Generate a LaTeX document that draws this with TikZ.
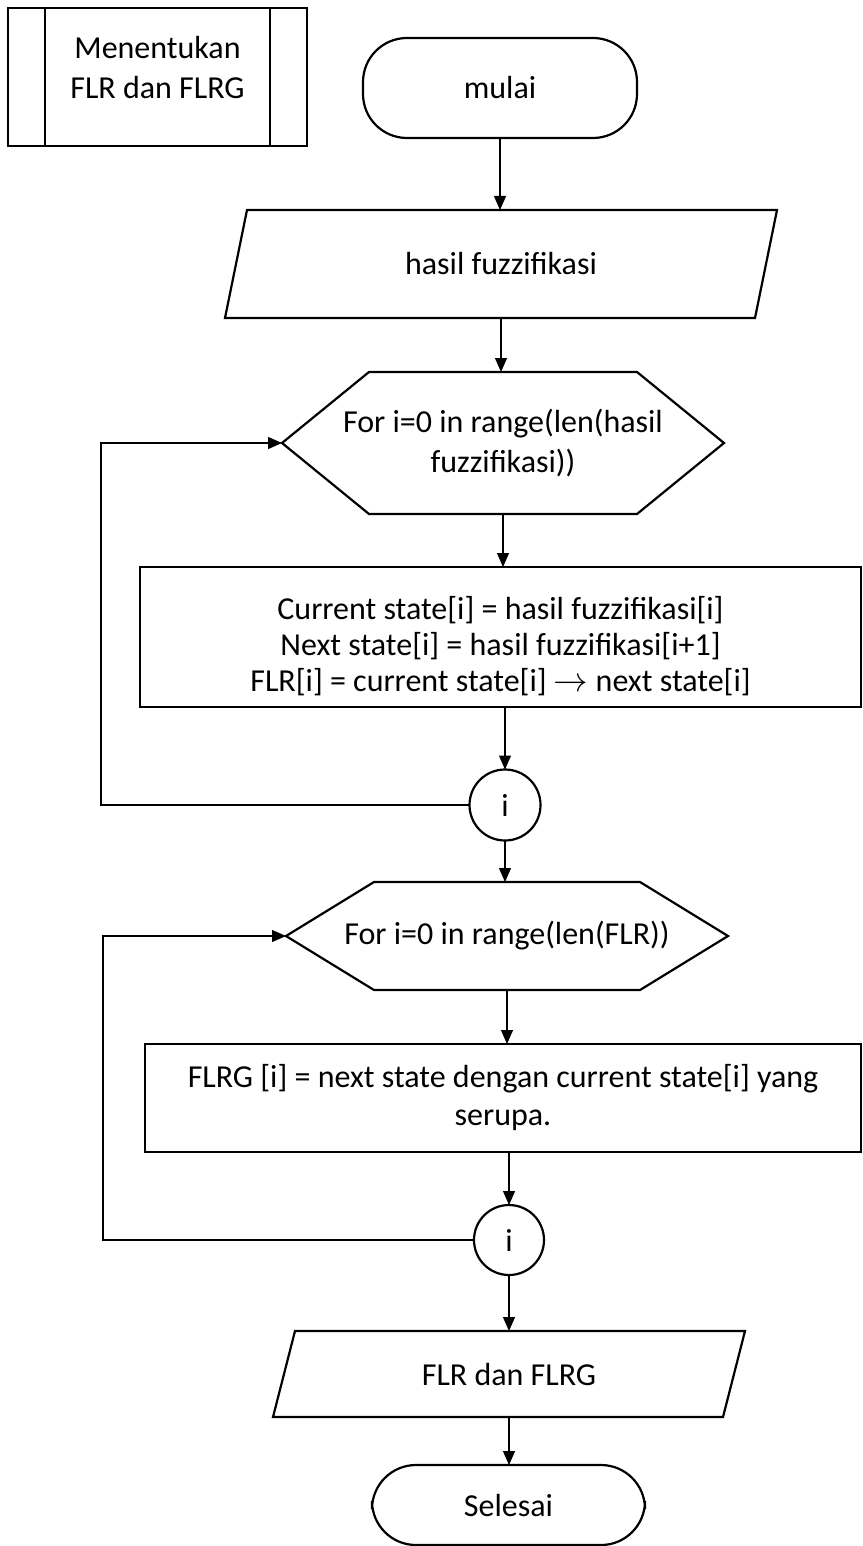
\documentclass[tikz,border=0pt]{standalone}
\usepackage{fontspec}
\setmainfont{Carlito}
\usetikzlibrary{arrows.meta,calc}
\begin{document}
\begin{tikzpicture}[x=0.5pt,y=-0.5pt,
  lbl/.style={inner sep=0pt, outer sep=0pt, align=center, font=\fontsize{16}{20}\selectfont},
  outline/.style={draw=black, line width=1.1pt, line join=miter},
  flow/.style={draw=black, line width=0.6pt, -{Triangle[length=7pt,width=6pt]}},
  terminal/.style={lbl, outline, rounded corners=22pt},
  procbox/.style={lbl, outline},
  joint/.style={lbl, outline, circle}]
\useasboundingbox (0,0) rectangle (862,1546);

% sub-process frame
\node[lbl, minimum width=149.5pt, minimum height=69pt] (sub) at (157.5,77) {};
\draw[outline] (sub.south west) rectangle (sub.north east);
\draw[outline] ($(sub.north west)+(37,0)$) -- ($(sub.south west)+(37,0)$);
\draw[outline] ($(sub.north east)+(-37,0)$) -- ($(sub.south east)+(-37,0)$);
\node[lbl] (subtext) at (157.5,68) {Menentukan\\FLR dan FLRG};

% start
\node[terminal, minimum width=137pt, minimum height=50pt] (start) at (500,88) {mulai};

% input
\node[lbl, minimum width=276pt, minimum height=54pt] (in1) at (501,264) {hasil fuzzifikasi};
\draw[outline] ($(in1.north west)+(22,0)$) -- (in1.north east) -- ($(in1.south east)+(-22,0)$) -- (in1.south west) -- cycle;

% first loop header
\node[lbl, minimum width=221pt, minimum height=71pt] (loop1) at (503,443) {For i=0 in range(len(hasil\\fuzzifikasi))};
\draw[outline] (loop1.west) -- ($(loop1.north west)+(87,0)$) -- ($(loop1.north east)+(-87,0)$) -- (loop1.east) -- ($(loop1.south east)+(-87,0)$) -- ($(loop1.south west)+(87,0)$) -- cycle;

% first loop body (the strut on the first line lowers the text block a little)
\node[procbox, minimum width=360.5pt, minimum height=70pt, font=\fontsize{16}{18}\selectfont] (calc1) at (500.5,637)
  {\rule{0pt}{21pt}Current state[i] = hasil fuzzifikasi[i]\\Next state[i] = hasil fuzzifikasi[i+1]\\FLR[i] = current state[i] \ensuremath{\rightarrow} next state[i]};

\node[joint, minimum size=35.5pt] (j1) at (505,805) {i};

% second loop header
\node[lbl, minimum width=221pt, minimum height=54pt] (loop2) at (507,936) {For i=0 in range(len(FLR))};
\draw[outline] (loop2.west) -- ($(loop2.north west)+(88,0)$) -- ($(loop2.north east)+(-88,0)$) -- (loop2.east) -- ($(loop2.south east)+(-88,0)$) -- ($(loop2.south west)+(88,0)$) -- cycle;

% second loop body
\node[procbox, minimum width=358pt, minimum height=54pt, font=\fontsize{16}{19}\selectfont] (calc2) at (503,1098)
  {FLRG [i] = next state dengan current state[i] yang\\serupa.};

\node[joint, minimum size=35pt] (j2) at (509,1240) {i};

% output
\node[lbl, minimum width=236pt, minimum height=43pt] (out) at (509,1374) {FLR dan FLRG};
\draw[outline] ($(out.north west)+(22,0)$) -- (out.north east) -- ($(out.south east)+(-22,0)$) -- (out.south west) -- cycle;

% end
\node[terminal, minimum width=136.5pt, minimum height=40pt] (stop) at (508.5,1505) {Selesai};

% connectors
\draw[flow] (start.south) -- (start.south |- in1.north);
\draw[flow] (in1.south) -- (in1.south |- loop1.north);
\draw[flow] (loop1.south) -- (loop1.south |- calc1.north);
\draw[flow] (calc1.south -| j1.north) -- (j1.north);
\draw[flow] (j1.south) -- (j1.south |- loop2.north);
\draw[flow] (loop2.south) -- (loop2.south |- calc2.north);
\draw[flow] (calc2.south -| j2.north) -- (j2.north);
\draw[flow] (j2.south) -- (j2.south |- out.north);
\draw[flow] (out.south) -- (out.south |- stop.north);

% loop-back lines
\coordinate (ret1) at (101,805);
\coordinate (ret2) at (103,1240);
\draw[flow] (j1.west) -- (ret1) |- (loop1.west);
\draw[flow] (j2.west) -- (ret2) |- (loop2.west);
\end{tikzpicture}
\end{document}
